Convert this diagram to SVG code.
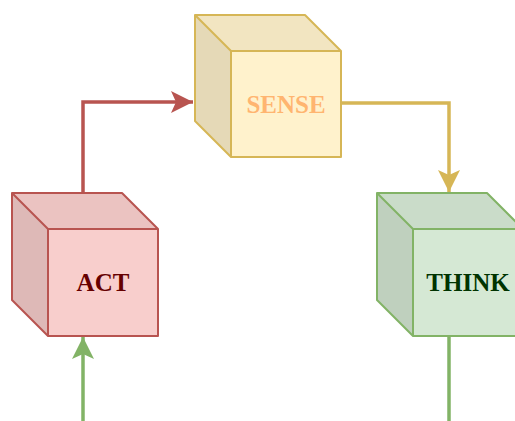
<svg xmlns="http://www.w3.org/2000/svg" width="515" height="421" viewBox="0 0 515 421">
<defs>
<style>
.lbl{font-family:"Liberation Serif","Times New Roman",serif;font-weight:bold;font-size:25px;text-anchor:middle}
.top{fill:#000;fill-opacity:0.05}
.side{fill:#000;fill-opacity:0.1}
.edge{fill:none;stroke-width:3.5}
.cube{fill:none;stroke-width:2;stroke-linejoin:round}
</style>
<marker id="arR" markerWidth="26" markerHeight="26" viewBox="0 0 26 26" refX="23" refY="13" orient="auto" markerUnits="userSpaceOnUse"><path d="M1,2 L23,13 L1,24 L6,13 Z" fill="#b85450"/></marker>
<marker id="arY" markerWidth="26" markerHeight="26" viewBox="0 0 26 26" refX="23" refY="13" orient="auto" markerUnits="userSpaceOnUse"><path d="M1,2 L23,13 L1,24 L6,13 Z" fill="#d6b656"/></marker>
<marker id="arG" markerWidth="26" markerHeight="26" viewBox="0 0 26 26" refX="23" refY="13" orient="auto" markerUnits="userSpaceOnUse"><path d="M1,2 L23,13 L1,24 L6,13 Z" fill="#82b366"/></marker>
</defs>
<rect width="515" height="421" fill="#fff"/>
<g id="connectors">
<path class="edge" d="M83,193 L83,102 L193,102" stroke="#b85450" marker-end="url(#arR)"/>
<path class="edge" d="M341,103 L449,103 L449,192" stroke="#d6b656" marker-end="url(#arY)"/>
<path class="edge" d="M449,336 L449,421" stroke="#82b366"/>
<path class="edge" d="M83,421 L83,337" stroke="#82b366" marker-end="url(#arG)"/>
</g>
<g id="sense">
<path d="M195,15 L305,15 L341,51 L341,157 L231,157 L195,121 Z" fill="#fff2cc"/>
<path class="top" d="M195,15 L305,15 L341,51 L231,51 Z"/>
<path class="side" d="M195,15 L231,51 L231,157 L195,121 Z"/>
<path class="cube" d="M195,15 L305,15 L341,51 L341,157 L231,157 L195,121 Z M195,15 L231,51 L341,51 M231,51 L231,157" stroke="#d6b656"/>
<text class="lbl" x="286" y="113" fill="#ffb570">SENSE</text>
</g>
<g id="act">
<path d="M12,193 L122,193 L158,229 L158,336 L48,336 L12,300 Z" fill="#f8cecc"/>
<path class="top" d="M12,193 L122,193 L158,229 L48,229 Z"/>
<path class="side" d="M12,193 L48,229 L48,336 L12,300 Z"/>
<path class="cube" d="M12,193 L122,193 L158,229 L158,336 L48,336 L12,300 Z M12,193 L48,229 L158,229 M48,229 L48,336" stroke="#b85450"/>
<text class="lbl" x="103" y="291" fill="#660000">ACT</text>
</g>
<g id="think">
<path d="M377,193 L487,193 L523,229 L523,336 L413,336 L377,300 Z" fill="#d5e8d4"/>
<path class="top" d="M377,193 L487,193 L523,229 L413,229 Z"/>
<path class="side" d="M377,193 L413,229 L413,336 L377,300 Z"/>
<path class="cube" d="M377,193 L487,193 L523,229 L523,336 L413,336 L377,300 Z M377,193 L413,229 L523,229 M413,229 L413,336" stroke="#82b366"/>
<text class="lbl" x="468" y="291" fill="#003300">THINK</text>
</g>
</svg>
